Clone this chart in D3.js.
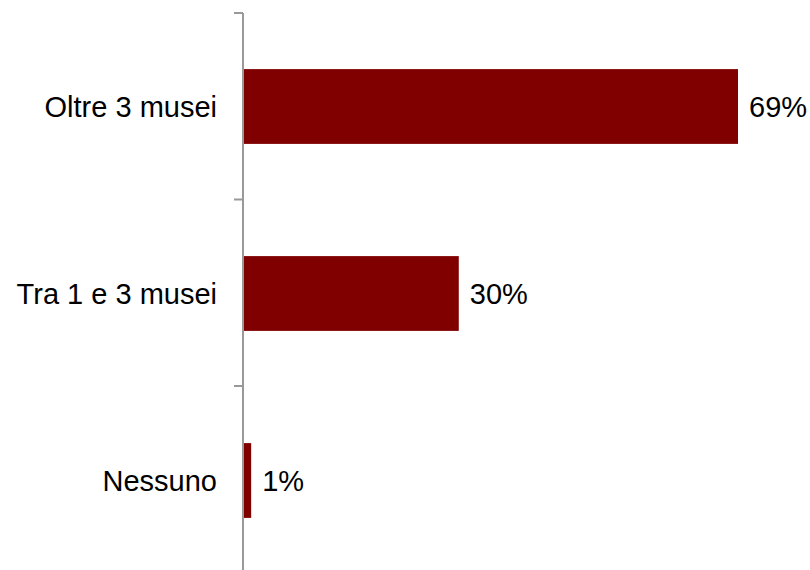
<!DOCTYPE html>
<html>
<head>
<meta charset="utf-8">
<script src="https://cdn.jsdelivr.net/npm/d3@7"></script>
<style>
  body { margin: 0; background: #fff; }
  text { font-family: "Liberation Sans", Arial, sans-serif; }
</style>
</head>
<body>
<div id="plot"></div>
<script>
// categories top to bottom
const categories = ["Oltre 3 musei", "Tra 1 e 3 musei", "Nessuno"];
const values = [69, 30, 1];

const svgWidth = 810;
const svgHeight = 570;
const axisX = 243;

const svg = d3
  .select("div#plot")
  .append("svg")
  .attr("width", svgWidth)
  .attr("height", svgHeight);

const xScale = d3.scaleLinear().domain([0, 69]).range([axisX + 1, 738]);

const yScale = d3
  .scaleBand()
  .domain(categories)
  .range([13, 574])
  .paddingInner(0.6)
  .paddingOuter(0.3);

// bars
svg
  .selectAll(".bar")
  .data(values)
  .enter()
  .append("rect")
  .attr("class", "bar")
  .attr("x", xScale(0))
  .attr("y", (d, i) => yScale(categories[i]))
  .attr("width", (d) => xScale(d) - xScale(0))
  .attr("height", yScale.bandwidth())
  .style("fill", "#800000");

// axis line + ticks between categories
const tickYs = d3.range(categories.length + 1).map((i) => 13 + i * 186.5);
svg
  .append("line")
  .attr("x1", axisX)
  .attr("x2", axisX)
  .attr("y1", 13)
  .attr("y2", 571)
  .style("stroke", "#999")
  .style("stroke-width", 2);
svg
  .selectAll(".tick")
  .data(tickYs)
  .enter()
  .append("line")
  .attr("x1", axisX - 9)
  .attr("x2", axisX)
  .attr("y1", (d) => d)
  .attr("y2", (d) => d)
  .style("stroke", "#999")
  .style("stroke-width", 2);

// category labels
svg
  .selectAll(".cat-label")
  .data(categories)
  .enter()
  .append("text")
  .attr("x", 217)
  .attr("y", (d) => yScale(d) + yScale.bandwidth() / 2)
  .attr("dy", "0.35em")
  .style("text-anchor", "end")
  .style("font-size", "29px")
  .style("fill", "#000")
  .text((d) => d);

// value labels
svg
  .selectAll(".val-label")
  .data(values)
  .enter()
  .append("text")
  .attr("x", (d) => xScale(d) + 11)
  .attr("y", (d, i) => yScale(categories[i]) + yScale.bandwidth() / 2)
  .attr("dy", "0.35em")
  .style("font-size", "29px")
  .style("fill", "#000")
  .text((d) => d + "%");
</script>
</body>
</html>
